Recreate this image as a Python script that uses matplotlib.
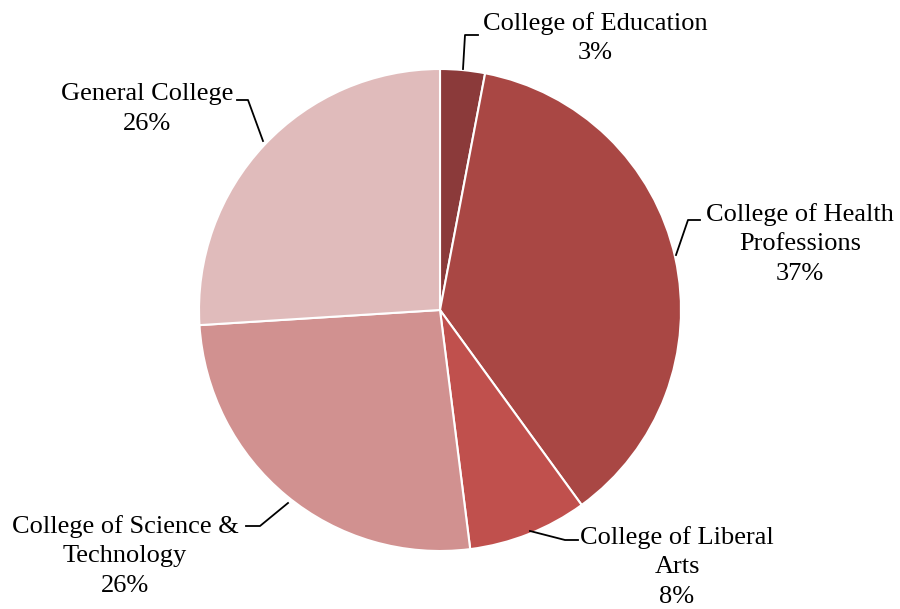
import matplotlib.pyplot as plt

# Data
labels = ["College of Education", "College of Health\nProfessions", "College of Liberal\nArts",
          "College of Science &\nTechnology", "General College"]
shares = [3, 37, 8, 26, 26]
colors = ["#8B3A3A", "#A94744", "#C0504D", "#D19190", "#E0BBBB"]

plt.rcParams["font.family"] = ["Liberation Serif", "DejaVu Serif"]

W, H = 900, 609
CX, CY, R = 440, 310, 241


def px(x, y):
    # pixel position -> data coords (pie centre 0,0, radius 1)
    return (x - CX) / R, (CY - y) / R


fig = plt.figure(figsize=(W / 100, H / 100), dpi=100)
ax = fig.add_axes([0, 0, 1, 1])
ax.pie(shares, colors=colors, startangle=90, counterclock=False,
       wedgeprops=dict(edgecolor="white", linewidth=1.5))
ax.set_xlim(-CX / R, (W - CX) / R)
ax.set_ylim(-(H - CY) / R, CY / R)
ax.axis("off")

# label text centre, leader line points (pixels)
spots = [
    ((595, 38), [(463, 69), (465, 35), (478, 35)]),
    ((800, 244), [(676, 255), (688, 220), (700, 220)]),
    ((677, 567), [(530, 531), (565, 540), (578, 540)]),
    ((125, 556), [(288, 503), (260, 526), (246, 526)]),
    ((147, 109), [(263, 141), (248, 100), (237, 100)]),
]

for lab, val, (tpos, line) in zip(labels, shares, spots):
    ax.text(*px(*tpos), f"{lab}\n{val}%", ha="center", va="center",
            fontsize=19, linespacing=1.45, color="black")
    xs, ys = zip(*[px(*p) for p in line])
    ax.plot(xs, ys, color="black", lw=1.3)

fig.savefig("out.png", dpi=100, facecolor="white")
